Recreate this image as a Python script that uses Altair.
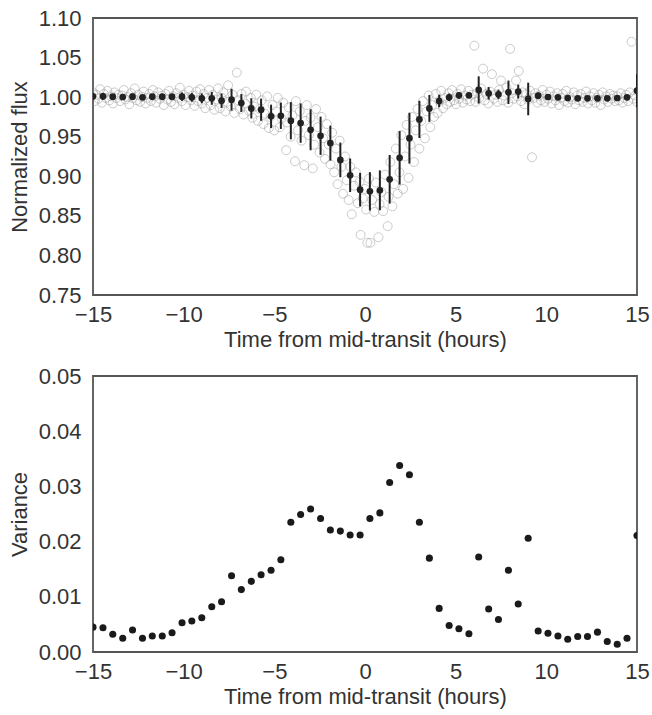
import altair as alt
import pandas as pd

# ---- binned light curve (mean flux per bin, variance per bin) ----
bin_time = [-15.00, -14.45, -13.91, -13.36, -12.82, -12.27, -11.73, -11.18, -10.64, -10.09,
            -9.55, -9.00, -8.45, -7.91, -7.36, -6.82, -6.27, -5.73, -5.18, -4.64,
            -4.09, -3.55, -3.00, -2.45, -1.91, -1.36, -0.82, -0.27, 0.27, 0.82,
            1.36, 1.91, 2.45, 3.00, 3.55, 4.09, 4.64, 5.18, 5.73, 6.27,
            6.82, 7.36, 7.91, 8.45, 9.00, 9.55, 10.09, 10.64, 11.18, 11.73,
            12.27, 12.82, 13.36, 13.91, 14.45, 15.00]
bin_flux = [1.0010, 1.0010, 1.0006, 1.0002, 1.0006, 0.9998, 1.0006, 1.0006, 1.0006, 1.0006,
            0.9998, 0.9985, 0.9985, 0.9955, 0.9968, 0.9926, 0.9858, 0.9841, 0.9757, 0.9765,
            0.9702, 0.9672, 0.9588, 0.9512, 0.9419, 0.9207, 0.9013, 0.8831, 0.8810, 0.8823,
            0.8962, 0.9233, 0.9482, 0.9719, 0.9858, 0.9951, 0.9998, 1.0023, 1.0023, 1.0091,
            1.0049, 1.0036, 1.0061, 1.0070, 0.9977, 1.0019, 1.0002, 0.9998, 0.9989, 0.9985,
            0.9985, 0.9985, 0.9985, 0.9989, 0.9998, 1.0082]
bin_var = [0.0045, 0.0044, 0.0032, 0.0025, 0.0040, 0.0025, 0.0029, 0.0029, 0.0035, 0.0053,
           0.0056, 0.0062, 0.0082, 0.0091, 0.0138, 0.0113, 0.0128, 0.0140, 0.0148, 0.0167,
           0.0235, 0.0249, 0.0259, 0.0242, 0.0221, 0.0219, 0.0212, 0.0212, 0.0242, 0.0252,
           0.0307, 0.0338, 0.0321, 0.0235, 0.0170, 0.0079, 0.0048, 0.0042, 0.0033, 0.0172,
           0.0078, 0.0059, 0.0148, 0.0087, 0.0206, 0.0038, 0.0034, 0.0029, 0.0023, 0.0028,
           0.0028, 0.0036, 0.0019, 0.0014, 0.0025, 0.0211]

# ---- raw (unbinned) points: [time, flux] ----
raw_points = [
    [-15.00, 1.006], [-14.90, 0.995], [-14.81, 1.003], [-14.70, 0.998], [-14.60, 1.010],
    [-14.51, 0.993], [-14.40, 1.004], [-14.30, 0.999], [-14.21, 1.008], [-14.10, 0.996],
    [-14.00, 1.001], [-13.90, 0.992], [-13.81, 1.006], [-13.70, 0.999], [-13.60, 1.003],
    [-13.51, 0.995], [-13.40, 1.002], [-13.30, 1.009], [-13.21, 0.997], [-13.10, 1.000],
    [-13.00, 0.991], [-12.90, 1.005], [-12.81, 0.999], [-12.70, 1.011], [-12.60, 0.996],
    [-12.51, 1.003], [-12.40, 0.994], [-12.30, 1.000], [-12.21, 1.007], [-12.10, 0.992],
    [-12.00, 0.999], [-11.90, 1.004], [-11.81, 0.995], [-11.70, 1.009], [-11.60, 1.001],
    [-11.51, 0.993], [-11.40, 1.006], [-11.30, 0.998], [-11.21, 1.002], [-11.10, 0.990],
    [-11.00, 1.004], [-10.90, 0.997], [-10.81, 1.008], [-10.70, 0.994], [-10.60, 1.001],
    [-10.51, 0.991], [-10.40, 1.005], [-10.30, 0.999], [-10.21, 1.012], [-10.10, 0.995],
    [-10.00, 1.003], [-9.90, 0.990], [-9.81, 1.000], [-9.70, 1.008], [-9.60, 0.996],
    [-9.51, 1.002], [-9.40, 0.989], [-9.30, 1.007], [-9.21, 0.995], [-9.10, 1.010],
    [-9.00, 0.992], [-8.90, 1.004], [-8.81, 0.986], [-8.70, 0.999], [-8.60, 1.009],
    [-8.51, 0.990], [-8.40, 1.003], [-8.30, 0.984], [-8.21, 0.997], [-8.10, 1.011],
    [-8.00, 0.986], [-7.90, 0.999], [-7.81, 1.006], [-7.70, 0.982], [-7.60, 0.994],
    [-7.55, 1.015], [-7.40, 0.988], [-7.30, 1.003], [-7.21, 0.980], [-7.07, 1.031],
    [-7.00, 0.996], [-6.90, 0.985], [-6.81, 1.004], [-6.70, 0.978], [-6.60, 0.992],
    [-6.56, 1.007], [-6.40, 0.983], [-6.30, 0.999], [-6.21, 0.974], [-6.10, 0.988],
    [-6.00, 1.003], [-5.90, 0.970], [-5.81, 0.985], [-5.70, 0.996], [-5.60, 0.966],
    [-5.51, 0.979], [-5.40, 1.001], [-5.30, 0.961], [-5.21, 0.975], [-5.10, 0.990],
    [-5.00, 0.958], [-4.90, 0.982], [-4.81, 0.999], [-4.70, 0.962], [-4.60, 0.973],
    [-4.51, 0.993], [-4.35, 0.933], [-4.30, 0.968], [-4.21, 0.987], [-4.10, 0.950],
    [-4.00, 0.977], [-3.86, 0.919], [-3.81, 0.995], [-3.70, 0.958], [-3.60, 0.982],
    [-3.50, 0.945], [-3.35, 0.914], [-3.30, 0.970], [-3.21, 0.990], [-3.10, 0.952],
    [-3.00, 0.974], [-2.88, 0.910], [-2.81, 0.940], [-2.70, 0.985], [-2.60, 0.962],
    [-2.51, 0.930], [-2.40, 0.975], [-2.30, 0.948], [-2.21, 0.922], [-2.10, 0.966],
    [-2.00, 0.940], [-1.90, 0.915], [-1.81, 0.955], [-1.70, 0.905], [-1.60, 0.935],
    [-1.51, 0.890], [-1.40, 0.945], [-1.30, 0.912], [-1.21, 0.878], [-1.10, 0.925],
    [-1.00, 0.895], [-0.90, 0.870], [-0.81, 0.912], [-0.73, 0.852], [-0.60, 0.888],
    [-0.51, 0.905], [-0.40, 0.866], [-0.30, 0.893], [-0.24, 0.826], [-0.12, 0.872],
    [0.00, 0.884], [0.07, 0.858], [0.13, 0.816], [0.22, 0.897], [0.30, 0.816],
    [0.40, 0.870], [0.51, 0.855], [0.60, 0.892], [0.74, 0.823], [0.80, 0.865],
    [0.90, 0.880], [1.00, 0.856], [1.10, 0.902], [1.25, 0.837], [1.30, 0.874],
    [1.40, 0.918], [1.51, 0.862], [1.60, 0.890], [1.70, 0.935], [1.80, 0.878],
    [1.90, 0.905], [2.00, 0.952], [2.10, 0.884], [2.20, 0.925], [2.30, 0.965],
    [2.40, 0.898], [2.51, 0.940], [2.60, 0.975], [2.70, 0.918], [2.80, 0.958],
    [2.90, 0.985], [3.00, 0.935], [3.10, 0.970], [3.20, 0.995], [3.30, 0.948],
    [3.40, 0.982], [3.51, 1.002], [3.60, 0.962], [3.70, 0.990], [3.80, 0.975],
    [3.90, 1.004], [4.00, 0.980], [4.10, 0.995], [4.20, 1.008], [4.30, 0.986],
    [4.40, 0.999], [4.51, 0.991], [4.60, 1.005], [4.70, 0.994], [4.80, 1.009],
    [4.90, 0.996], [5.02, 0.991], [5.10, 1.004], [5.20, 0.998], [5.30, 1.010],
    [5.40, 0.993], [5.51, 1.002], [5.60, 0.997], [5.70, 1.008], [5.80, 0.995],
    [5.90, 1.003], [6.03, 1.065], [6.10, 0.994], [6.20, 1.006], [6.30, 0.999],
    [6.40, 1.011], [6.51, 1.036], [6.60, 0.996], [6.70, 1.004], [6.80, 0.992],
    [6.90, 1.007], [7.00, 1.029], [7.10, 0.998], [7.20, 1.003], [7.30, 0.994],
    [7.40, 1.009], [7.50, 1.021], [7.60, 0.996], [7.70, 1.002], [7.80, 1.012],
    [7.90, 0.993], [8.00, 1.061], [8.10, 1.005], [8.20, 0.998], [8.33, 1.021],
    [8.40, 1.001], [8.48, 1.033], [8.60, 0.995], [8.70, 1.006], [8.80, 0.991],
    [8.90, 1.004], [9.00, 0.997], [9.10, 1.008], [9.21, 0.924], [9.30, 0.999],
    [9.40, 1.005], [9.51, 0.993], [9.60, 1.002], [9.70, 0.996], [9.80, 1.009],
    [9.90, 0.994], [10.00, 1.003], [10.10, 0.998], [10.20, 1.007], [10.30, 0.992],
    [10.40, 1.001], [10.51, 0.996], [10.60, 1.005], [10.70, 0.990], [10.80, 0.999],
    [10.90, 1.004], [11.00, 0.995], [11.10, 1.008], [11.20, 0.993], [11.30, 1.000],
    [11.40, 0.997], [11.51, 1.006], [11.60, 0.991], [11.70, 1.002], [11.80, 0.996],
    [11.90, 1.004], [12.00, 0.994], [12.10, 0.999], [12.20, 1.007], [12.30, 0.992],
    [12.40, 1.001], [12.51, 0.996], [12.60, 1.005], [12.70, 0.993], [12.80, 0.999],
    [12.90, 1.003], [13.00, 0.990], [13.10, 1.006], [13.20, 0.997], [13.30, 1.001],
    [13.40, 0.994], [13.51, 1.004], [13.60, 0.998], [13.70, 1.002], [13.80, 0.995],
    [13.90, 1.001], [14.00, 0.996], [14.10, 1.005], [14.20, 0.993], [14.30, 0.999],
    [14.40, 1.003], [14.51, 0.995], [14.60, 1.006], [14.70, 1.070], [14.80, 0.998],
    [14.90, 1.002], [15.00, 0.994],
]

x_ticks = [-15, -10, -5, 0, 5, 10, 15]
flux_ticks = [0.75, 0.80, 0.85, 0.90, 0.95, 1.00, 1.05, 1.10]
var_ticks = [0.00, 0.01, 0.02, 0.03, 0.04, 0.05]

bins = pd.DataFrame({"t": bin_time, "flux": bin_flux, "var": bin_var})
bins["lo"] = bins["flux"] - bins["var"]
bins["hi"] = bins["flux"] + bins["var"]
raw = pd.DataFrame(raw_points, columns=["t", "flux"])

FONT = "Liberation Sans"
TXT = "#333333"
W = 544

xscale = alt.Scale(domain=[-15, 15], nice=False, zero=False)
xaxis = alt.Axis(title="Time from mid-transit (hours)", values=x_ticks, format="d",
                 labelOverlap=False, labelFlush=False)
fscale = alt.Scale(domain=[0.75, 1.10], nice=False, zero=False)
faxis = alt.Axis(title="Normalized flux", values=flux_ticks, format=".2f",
                 labelOverlap=False, labelFlush=False)

X = alt.X("t:Q", scale=xscale, axis=xaxis)

raw_layer = alt.Chart(raw).mark_point(
    shape="circle", filled=False, size=80, strokeWidth=1,
    color="#a0a0a0", opacity=0.55, clip=True
).encode(
    x=X,
    y=alt.Y("flux:Q", scale=fscale, axis=faxis),
)

err_layer = alt.Chart(bins).mark_rule(color="#222222", strokeWidth=2, clip=True).encode(
    x=X,
    y=alt.Y("lo:Q", scale=fscale, axis=faxis),
    y2="hi:Q",
)

mean_layer = alt.Chart(bins).mark_circle(size=45, color="#222222", opacity=1, clip=True).encode(
    x=X,
    y=alt.Y("flux:Q", scale=fscale, axis=faxis),
)

top = alt.layer(raw_layer, err_layer, mean_layer).properties(width=W, height=277)

bottom = alt.Chart(bins).mark_circle(size=50, color="#1a1a1a", opacity=1, clip=True).encode(
    x=X,
    y=alt.Y("var:Q", scale=alt.Scale(domain=[0, 0.05], nice=False),
            axis=alt.Axis(title="Variance", values=var_ticks, format=".2f",
                          labelOverlap=False, labelFlush=False)),
).properties(width=W, height=276)

chart = alt.vconcat(top, bottom, spacing=13).properties(
    padding={"left": 7, "top": 6, "right": 0, "bottom": 2}
).configure_view(
    stroke="#555555", strokeWidth=1.8
).configure_axis(
    labelFont=FONT, titleFont=FONT, labelFontSize=22, titleFontSize=22,
    titleFontWeight="normal", labelColor=TXT, titleColor=TXT,
    ticks=False, domain=False, grid=False, labelPadding=9, titlePadding=4,
).configure_axisY(
    labelPadding=12, titlePadding=7
)

chart.save("out.html", embed_options={"renderer": "svg", "actions": False})
